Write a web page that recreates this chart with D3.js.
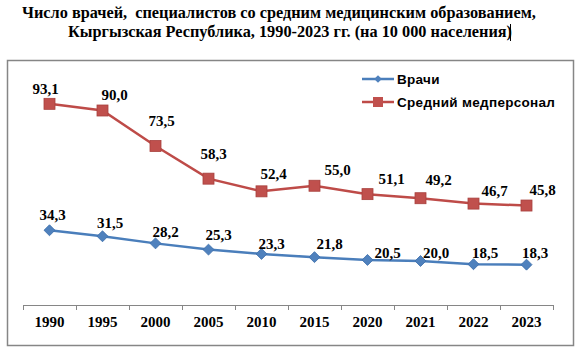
<!DOCTYPE html>
<html>
<head>
<meta charset="utf-8">
<script src="https://cdn.jsdelivr.net/npm/d3@7"></script>
<style>
  html, body { margin: 0; padding: 0; background: #fff; }
  svg { display: block; }
  .serif { font-family: "Liberation Serif", "Times New Roman", serif; font-weight: bold; }
  .sans { font-family: "Liberation Sans", Arial, sans-serif; font-weight: bold; }
</style>
</head>
<body>
<svg id="chart" width="579" height="350"></svg>
<script>
// Years on the category axis
const years = ["1990", "1995", "2000", "2005", "2010", "2015", "2020", "2021", "2022", "2023"];
// Physicians per 10 000 population
const doctors = [34.3, 31.5, 28.2, 25.3, 23.3, 21.8, 20.5, 20.0, 18.5, 18.3];
// Nursing / mid-level medical staff per 10 000 population
const nurses = [93.1, 90.0, 73.5, 58.3, 52.4, 55.0, 51.1, 49.2, 46.7, 45.8];
const seriesNames = ["Врачи", "Средний медперсонал"];
const titleLines = [
  "Число врачей,  специалистов со средним медицинским образованием,",
  "Кыргызская Республика, 1990-2023 гг. (на 10 000 населения)"
];

// Hand-placed data-label offsets (px from the marker centre)
const nurseLabelDx = [-4, 12, 6, 5, 12, 23, 24, 18, 21, 16];
const nurseLabelDy = [-15.5, -16, -25, -24.5, -17.5, -16.5, -15, -18, -12.5, -16];
const doctorLabelDx = [3, 7.5, 10, 10, 10, 15, 20, 15.5, 11.5, 8.5];
const doctorLabelDy = [-15.5, -14, -11.5, -14.5, -10, -13, -7, -8, -11, -11.5];

const svg = d3.select("#chart");
const blue = "#4a7ebb", red = "#be4b48";
const fmt = v => d3.format(".1f")(v).replace(".", ",");

// Title
svg.append("g").selectAll("text").data(titleLines).join("text")
  .attr("class", "serif")
  .attr("x", (d, i) => i === 0 ? 22 : 68)
  .attr("y", (d, i) => 18 + i * 19)
  .style("font-size", "16.3px")
  .style("white-space", "pre")
  .attr("fill", "#000")
  .text(d => d);

// Cursor bar at the end of the title
svg.append("line")
  .attr("x1", 510.5).attr("x2", 510.5).attr("y1", 24).attr("y2", 41)
  .attr("stroke", "#000").attr("stroke-width", 1);

// Chart frame
svg.append("rect")
  .attr("x", 7.5).attr("y", 60.5).attr("width", 566).attr("height", 285)
  .attr("fill", "none").attr("stroke", "#868686").attr("stroke-width", 1.5);

const x = d3.scaleBand().domain(years).range([23, 553]);
const y = d3.scaleLinear().domain([0, 100]).range([304, 89]);
const cx = d => x(d) + x.bandwidth() / 2;

// Category axis: line with tick marks on band edges
const axisY = 305;
const axis = svg.append("g");
axis.append("line")
  .attr("x1", x.range()[0]).attr("x2", x.range()[1])
  .attr("y1", axisY + 0.5).attr("y2", axisY + 0.5)
  .attr("stroke", "#868686").attr("stroke-width", 1);
const edges = years.map(d => x(d)).concat([x.range()[1]]);
axis.selectAll("line.tick").data(edges).join("line")
  .attr("class", "tick")
  .attr("x1", d => Math.round(d) + 0.5).attr("x2", d => Math.round(d) + 0.5)
  .attr("y1", axisY).attr("y2", axisY + 5)
  .attr("stroke", "#868686");
axis.selectAll("text").data(years).join("text")
  .attr("class", "serif")
  .attr("x", d => cx(d))
  .attr("y", 327)
  .attr("text-anchor", "middle")
  .style("font-size", "15px")
  .text(d => d);

const line = d3.line().x((d, i) => cx(years[i])).y(d => y(d));

// Nursing staff series
svg.append("path").datum(nurses)
  .attr("d", line).attr("fill", "none").attr("stroke", red).attr("stroke-width", 2.5);
svg.append("g").selectAll("rect").data(nurses).join("rect")
  .attr("x", (d, i) => cx(years[i]) - 5.5)
  .attr("y", d => y(d) - 5.5)
  .attr("width", 11).attr("height", 11)
  .attr("fill", "#c0504d").attr("stroke", "#a8403d").attr("stroke-width", 0.8);

// Physicians series
svg.append("path").datum(doctors)
  .attr("d", line).attr("fill", "none").attr("stroke", blue).attr("stroke-width", 2.5);
svg.append("g").selectAll("path").data(doctors).join("path")
  .attr("d", d3.symbol().type(d3.symbolSquare).size(60))
  .attr("transform", (d, i) => `translate(${cx(years[i])},${y(d)}) rotate(45)`)
  .attr("fill", "#4f81bd").attr("stroke", "#3d6fab").attr("stroke-width", 0.8);

// Data labels
const labelFont = sel => sel
  .attr("class", "serif")
  .attr("text-anchor", "middle")
  .attr("dy", "0.35em")
  .style("font-size", "15px")
  .attr("fill", "#000");
svg.append("g").selectAll("text").data(nurses).join("text")
  .attr("x", (d, i) => cx(years[i]) + nurseLabelDx[i])
  .attr("y", (d, i) => y(d) + nurseLabelDy[i])
  .call(labelFont)
  .text(fmt);
svg.append("g").selectAll("text").data(doctors).join("text")
  .attr("x", (d, i) => cx(years[i]) + doctorLabelDx[i])
  .attr("y", (d, i) => y(d) + doctorLabelDy[i])
  .call(labelFont)
  .text(fmt);

// Legend
const legend = svg.append("g").attr("transform", "translate(362,79)");
const items = legend.selectAll("g").data(seriesNames).join("g")
  .attr("transform", (d, i) => `translate(0,${i * 23})`);
items.append("line")
  .attr("x1", 0).attr("x2", 32).attr("y1", 0).attr("y2", 0)
  .attr("stroke", (d, i) => i === 0 ? blue : red).attr("stroke-width", 2.5);
items.filter((d, i) => i === 0).append("path")
  .attr("d", d3.symbol().type(d3.symbolSquare).size(30))
  .attr("transform", "translate(16,0) rotate(45)")
  .attr("fill", "#4f81bd");
items.filter((d, i) => i === 1).append("rect")
  .attr("x", 11).attr("y", -5).attr("width", 10).attr("height", 10)
  .attr("fill", "#c0504d");
items.append("text")
  .attr("class", "sans")
  .attr("x", 35).attr("dy", "0.35em")
  .style("font-size", "13.5px")
  .style("letter-spacing", "0.3px")
  .attr("fill", "#000")
  .text(d => d);
</script>
</body>
</html>
